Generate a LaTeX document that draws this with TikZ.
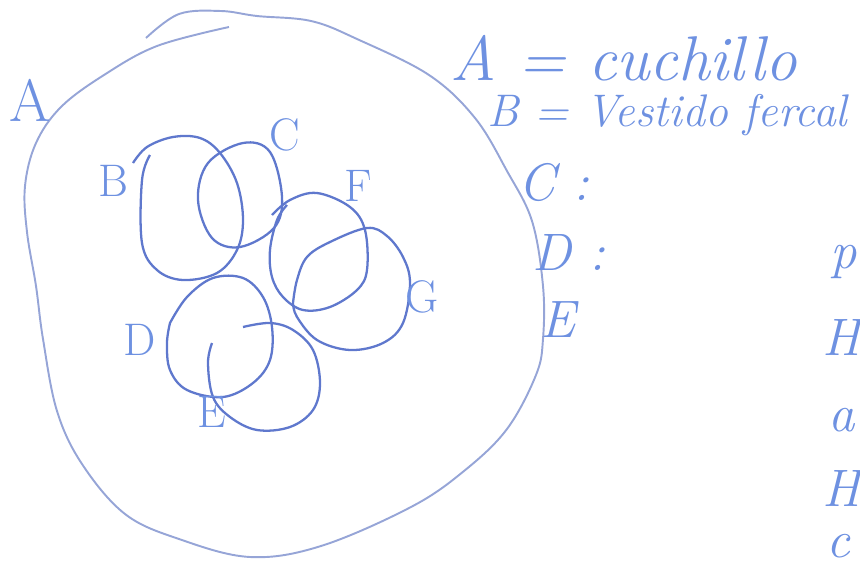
\documentclass[tikz,border=0pt]{standalone}
\usetikzlibrary{positioning}

\definecolor{penblue}{RGB}{110,145,225}
\definecolor{inkblue}{RGB}{95,120,205}
\definecolor{paleblue}{RGB}{150,165,215}

\begin{document}
\begin{tikzpicture}[
    x=0.02cm, y=-0.02cm,
    outline/.style={draw=paleblue, line width=1.1pt},
    loopline/.style={draw=inkblue, line width=1.3pt},
    setlabel/.style={text=penblue, font=\fontsize{26}{28}\selectfont, inner sep=0pt},
    bigletter/.style={text=penblue, font=\fontsize{34}{36}\selectfont, inner sep=0pt},
    keytext/.style={text=penblue, font=\fontsize{30}{34}\selectfont\itshape, inner sep=0pt, anchor=west}
]
    \useasboundingbox (0,0) rectangle (860,569);
    \clip (0,0) rectangle (860,569);

    % outer set A
    \draw[outline] plot[smooth, tension=0.6] coordinates {
        (146,38) (179,14) (221,11) (257,16) (311,21) (357,39) (429,75)
        (475,118) (507,171) (532,221) (543,286) (543,339) (536,375)
        (507,429) (464,471) (411,507) (321,546) (250,557) (179,539)
        (125,514) (82,464) (57,411) (43,339) (36,286) (27,232) (25,186)
        (36,143) (61,107) (104,75) (157,46) (229,27)};

    % inner loops
    \draw[loopline] plot[smooth, tension=0.6] coordinates { % B
        (150,155) (142,180) (142,243) (157,270) (183,280) (217,273)
        (237,250) (243,220) (237,183) (220,153) (200,138) (173,137)
        (147,147) (133,163)};
    \draw[loopline] plot[smooth cycle, tension=0.6] coordinates { % C
        (243,143) (270,152) (282,197) (274,228) (240,247) (212,238)
        (198,200) (208,163)};
    \draw[loopline] plot[smooth, tension=0.6] coordinates { % F
        (272,215) (290,200) (317,193) (350,207) (365,230) (367,270)
        (357,290) (330,307) (303,310) (283,297) (272,277) (270,250)
        (277,220) (287,205)};
    \draw[loopline] plot[smooth, tension=0.6] coordinates { % G
        (293,303) (297,280) (307,257) (330,242) (367,228) (387,236)
        (403,257) (410,283) (403,323) (383,343) (350,350) (317,340)
        (297,317) (293,303)};
    \draw[loopline] plot[smooth, tension=0.6] coordinates { % D
        (170,323) (187,297) (213,278) (243,278) (263,297) (272,327)
        (270,360) (253,383) (223,397) (187,390) (170,370) (167,343)
        (170,323)};
    \draw[loopline] plot[smooth, tension=0.6] coordinates { % E
        (212,343) (208,363) (213,397) (230,417) (257,430) (290,427)
        (313,410) (320,383) (313,350) (293,330) (270,323) (243,327)};

    % labels of the sets
    \node[bigletter] (labA) at (30,100) {A};
    \node[setlabel] (labB) at (113,181) {B};
    \node[setlabel] (labC) at (285,135) {C};
    \node[setlabel] (labF) at (358,186) {F};
    \node[setlabel] (labG) at (422,297) {G};
    \node[setlabel] (labD) at (140,340) {D};
    \node[setlabel] (labE) at (212,412) {E};

    % key on the right
    \node[keytext, font=\fontsize{36}{40}\selectfont\itshape] (keyA) at (450,58) {A = cuchillo};
    \node[keytext, font=\fontsize{26}{30}\selectfont\itshape] (keyB) at (487,115) {B = Vestido fercal};
    \node[keytext] (keyC) at (518,182) {C :};
    \node[keytext] (keyD) at (532,252) {D :};
    \node[keytext] (keyE) at (540,320) {E};

    % letters at the right edge
    \node[keytext] (edgeP) at (830,262) {p};
    \node[keytext] (edgeH) at (822,337) {H};
    \node[keytext] (edgeA) at (828,420) {a};
    \node[keytext] (edgeH2) at (822,488) {H};
    \node[keytext] (edgeC) at (826,546) {c};
\end{tikzpicture}
\end{document}
